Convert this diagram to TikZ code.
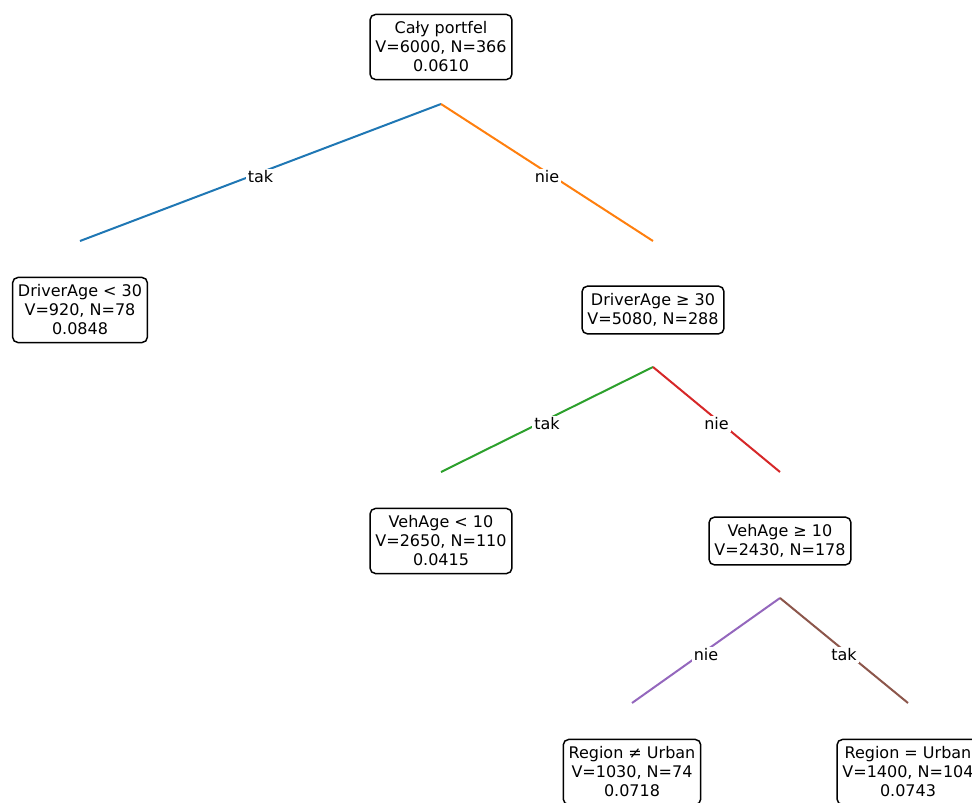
\documentclass[tikz,border=0pt]{standalone}
\usepackage{fontspec}
\setmainfont{DejaVu Sans}
\usetikzlibrary{calc}
\definecolor{tabblue}{HTML}{1F77B4}
\definecolor{taborange}{HTML}{FF7F0E}
\definecolor{tabgreen}{HTML}{2CA02C}
\definecolor{tabred}{HTML}{D62728}
\definecolor{tabpurple}{HTML}{9467BD}
\definecolor{tabbrown}{HTML}{8C564B}
\tikzset{
  leaf/.style={draw, fill=white, rounded corners=4pt, line width=1.1pt, align=center,
    inner xsep=4pt, inner ysep=5.5pt, font=\fontsize{12}{14.25}\selectfont},
  branch/.style={line width=1.5pt},
  lbl/.style={fill=white, text=black, inner sep=1.5pt, yshift=-3.2pt, font=\fontsize{12}{14.25}\selectfont}
}
\begin{document}
\begin{tikzpicture}[x=0.75pt, y=-0.75pt]
            \clip (0, 0) rectangle (972, 803);
            \node[leaf] (n1) at (441, 47) {Cały portfel\\V=6000, N=366\\0.0610};
            \node[leaf] (n2) at (80, 310) {DriverAge < 30\\V=920, N=78\\0.0848};
            \node[leaf] (n3) at (653, 310) {DriverAge ≥ 30\\V=5080, N=288};
            \node[leaf] (n4) at (441, 541) {VehAge < 10\\V=2650, N=110\\0.0415};
            \node[leaf] (n5) at (780, 541) {VehAge ≥ 10\\V=2430, N=178};
            \node[leaf] (n6) at (632, 772) {Region ≠ Urban\\V=1030, N=74\\0.0718};
            \node[leaf] (n7) at (908, 772) {Region = Urban\\V=1400, N=104\\0.0743};

            \draw[branch, tabblue] ($(n1)+(0, 57)$) -- node[lbl] {tak} ($(n2)+(0, -69)$);
            \draw[branch, taborange] ($(n1)+(0, 57)$) -- node[lbl] {nie} ($(n3)+(0, -69)$);
            \draw[branch, tabgreen] ($(n3)+(0, 57)$) -- node[lbl] {tak} ($(n4)+(0, -69)$);
            \draw[branch, tabred] ($(n3)+(0, 57)$) -- node[lbl] {nie} ($(n5)+(0, -69)$);
            \draw[branch, tabpurple] ($(n5)+(0, 57)$) -- node[lbl] {nie} ($(n6)+(0, -69)$);
            \draw[branch, tabbrown] ($(n5)+(0, 57)$) -- node[lbl] {tak} ($(n7)+(0, -69)$);
        \end{tikzpicture}
\end{document}
